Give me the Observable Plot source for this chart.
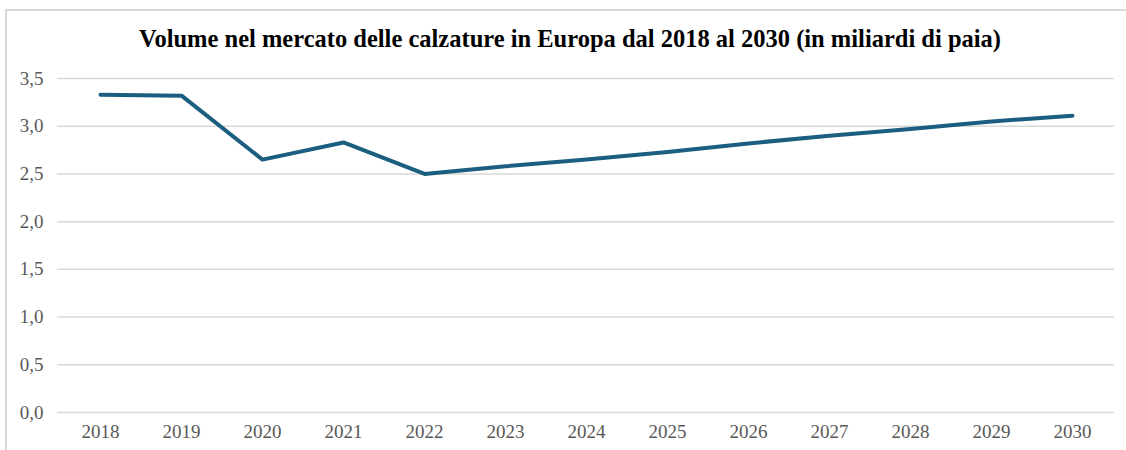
<!DOCTYPE html>
<html>
<head>
<meta charset="utf-8">
<script src="https://cdn.jsdelivr.net/npm/d3@7"></script>
<script src="https://cdn.jsdelivr.net/npm/@observablehq/plot@0.6"></script>
<style>
  html, body { margin: 0; padding: 0; background: #fff; overflow: hidden; }
  #frame { position: absolute; left: 5px; top: 9px; width: 1300px; height: 600px;
           border-top: 2px solid #d9d9d9; border-left: 2px solid #d9d9d9; box-sizing: border-box; }
  #title { position: absolute; left: 0; top: 25px; width: 1140px; text-align: center;
           font-family: "Liberation Serif", "Times New Roman", serif; font-weight: bold;
           font-size: 24.5px; color: #000; white-space: nowrap; }
  #chart { position: absolute; left: 0; top: 60px; }
</style>
</head>
<body>
<div id="frame"></div>
<div id="title">Volume nel mercato delle calzature in Europa dal 2018 al 2030 (in miliardi di paia)</div>
<div id="chart"></div>
<script>
const years = ["2018","2019","2020","2021","2022","2023","2024","2025","2026","2027","2028","2029","2030"];
const volumes = [3.33, 3.32, 2.65, 2.83, 2.50, 2.58, 2.65, 2.73, 2.82, 2.90, 2.97, 3.05, 3.11];
const yTicks = [0, 0.5, 1.0, 1.5, 2.0, 2.5, 3.0, 3.5];

const data = years.map((y, i) => ({year: y, value: volumes[i]}));
const fmt = d => d.toFixed(1).replace(".", ",");

const chart = Plot.plot({
  width: 1126,
  height: 390,
  marginTop: 18,
  marginBottom: 38,
  marginLeft: 57,
  marginRight: 12,
  style: { fontFamily: "'Liberation Serif', 'Times New Roman', serif", fontSize: "19px", color: "#595959", background: "transparent" },
  x: { type: "point", domain: years, padding: 0.5, label: null },
  y: { domain: [0, 3.5], label: null },
  marks: [
    Plot.ruleY(yTicks, { stroke: "#d9d9d9", strokeWidth: 1.5 }),
    Plot.axisY(yTicks, { tickSize: 0, tickPadding: 14, tickFormat: fmt, fill: "#595959", fontSize: 19 }),
    Plot.axisX(years, { tickSize: 0, tickPadding: 12, fill: "#595959", fontSize: 19 }),
    Plot.line(data, { x: "year", y: "value", stroke: "#1b5e80", strokeWidth: 4, strokeLinecap: "round", strokeLinejoin: "round" })
  ]
});
document.getElementById("chart").appendChild(chart);
</script>
</body>
</html>
